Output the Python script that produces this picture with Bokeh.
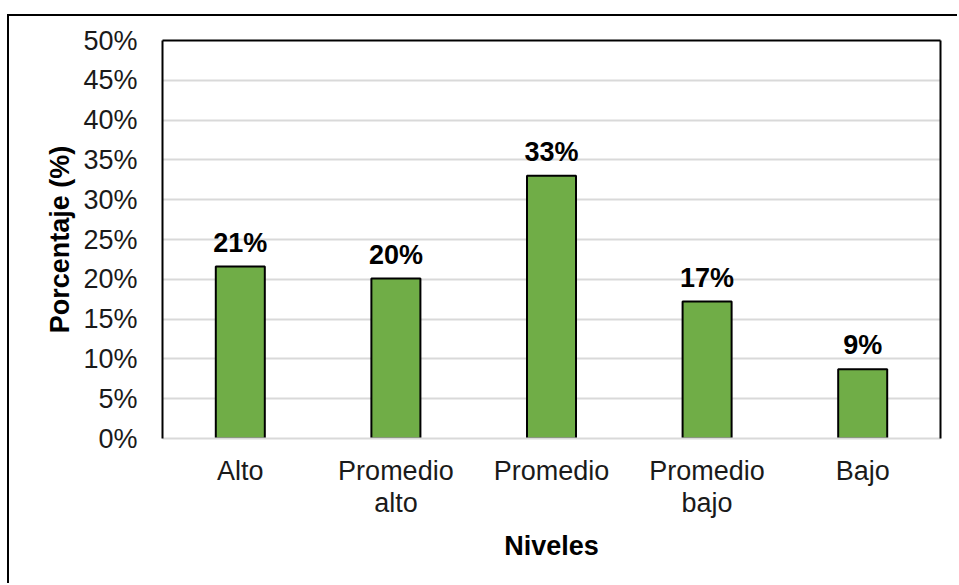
from bokeh.plotting import figure
from bokeh.models import (ColumnDataSource, LinearAxis, CategoricalAxis, PrintfTickFormatter,
                          FixedTicker, Range1d, LabelSet, CustomJSTickFormatter)
from bokeh.core.properties import value
from bokeh.embed import file_html
from bokeh.resources import INLINE

categories = ["Alto", "Promedio alto", "Promedio", "Promedio bajo", "Bajo"]
label_line1 = ["Alto", "Promedio", "Promedio", "Promedio", "Bajo"]
label_line2 = ["", "alto", "", "bajo", ""]
values = [21.6, 20.1, 33.0, 17.2, 8.7]
value_labels = ["21%", "20%", "33%", "17%", "9%"]
y_ticks = [0, 5, 10, 15, 20, 25, 30, 35, 40, 45, 50]

FONT = "Liberation Sans"
FS = "27px"

src = ColumnDataSource(dict(cat=categories, val=values, lab=value_labels))

p = figure(x_range=categories, y_range=Range1d(0, 50), width=950, height=569,
           output_backend="svg", toolbar_location=None, x_axis_location=None,
           min_border_left=153, min_border_right=19, min_border_top=24, min_border_bottom=147)
p.styles = {"border-top": "2px solid black", "border-left": "2px solid black",
            "margin-top": "14px", "margin-left": "7px"}
p.outline_line_color = None
p.background_fill_color = "white"
p.border_fill_color = "white"

p.vbar(x="cat", top="val", width=0.315, source=src, fill_color="#70AD47",
       line_color="black", line_width=2)

p.add_layout(LabelSet(x="cat", y="val", text="lab", source=src, text_align="center",
                      text_baseline="middle", y_offset=24, text_font=value(FONT),
                      text_font_style="bold", text_font_size=FS, text_color="black"))

# y axis
ya = p.yaxis[0]
ya.ticker = FixedTicker(ticks=y_ticks)
ya.formatter = PrintfTickFormatter(format="%d%%")
ya.major_tick_line_color = None
ya.minor_tick_line_color = None
ya.axis_line_color = "black"
ya.axis_line_width = 2
ya.major_label_standoff = 19
ya.major_label_text_font = FONT
ya.major_label_text_font_size = FS
ya.major_label_text_color = "#1a1a1a"
ya.axis_label = "Porcentaje (%)"
ya.axis_label_text_font = FONT
ya.axis_label_text_font_style = "bold"
ya.axis_label_text_font_size = FS
ya.axis_label_text_color = "black"
ya.axis_label_standoff = 5


def line_formatter(lines):
    return CustomJSTickFormatter(args=dict(cats=categories, labs=lines),
                                 code="const i = cats.indexOf(tick); return i >= 0 ? labs[i] : '';")


# x axis: two stacked categorical axes for two-line labels
xa1 = CategoricalAxis(formatter=line_formatter(label_line1),
                      major_tick_line_color=None, minor_tick_line_color=None,
                      axis_line_color="#D9D9D9", axis_line_width=2,
                      major_label_standoff=11, major_label_text_font=FONT,
                      major_label_text_font_size=FS, major_label_text_color="#1a1a1a")
p.add_layout(xa1, "below")
xa2 = CategoricalAxis(formatter=line_formatter(label_line2),
                      major_tick_line_color=None, minor_tick_line_color=None,
                      axis_line_color=None,
                      major_label_standoff=-7, major_label_text_font=FONT,
                      major_label_text_font_size=FS, major_label_text_color="#1a1a1a",
                      axis_label="Niveles", axis_label_text_font=FONT,
                      axis_label_text_font_style="bold", axis_label_text_font_size=FS,
                      axis_label_text_color="black", axis_label_standoff=10)
p.add_layout(xa2, "below")

# frame lines top and right
for loc in ("right", "above"):
    ax = LinearAxis(major_tick_line_color=None, minor_tick_line_color=None,
                    major_label_text_font_size="0px", axis_line_color="black",
                    axis_line_width=2, ticker=FixedTicker(ticks=[]))
    p.add_layout(ax, loc)

p.xgrid.grid_line_color = None
p.ygrid.ticker = FixedTicker(ticks=y_ticks)
p.ygrid.grid_line_color = "#D9D9D9"
p.ygrid.grid_line_width = 2

open("out.html", "w").write(file_html(p, INLINE))
